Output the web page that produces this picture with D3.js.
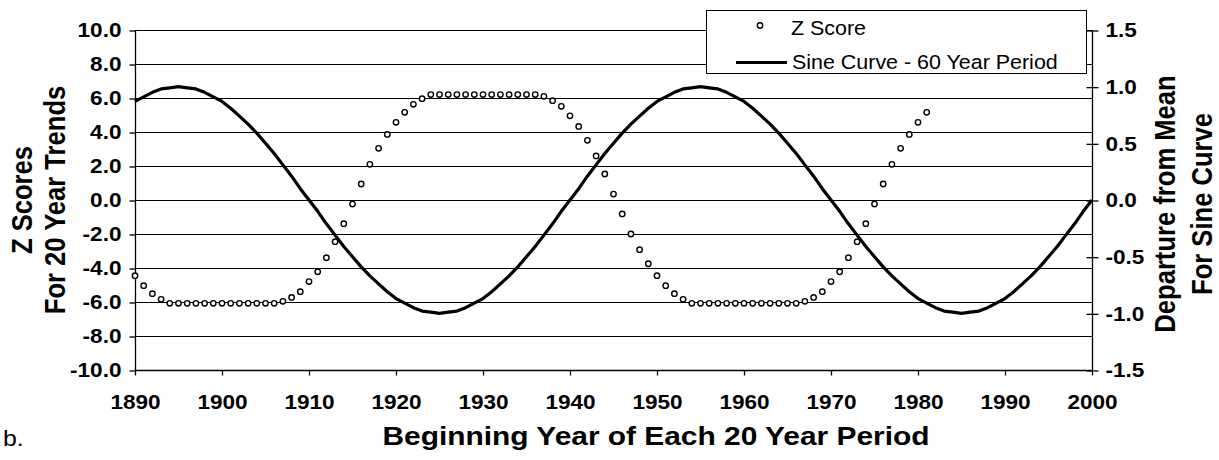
<!DOCTYPE html>
<html>
<head>
<meta charset="utf-8">
<script src="https://cdn.jsdelivr.net/npm/d3@7"></script>
<style>
  html, body { margin: 0; padding: 0; background: #fff; }
  svg { display: block; font-family: "Liberation Sans", Arial, sans-serif; }
</style>
</head>
<body>
<svg id="chart" width="1219" height="460"></svg>
<script>
// Z scores of 20-year trends, one per beginning year from 1890
const zFirstYear = 1890;
const zScores = [
  -4.45, -5.04, -5.51, -5.84,
  -6.08, -6.08, -6.08, -6.08, -6.08, -6.08, -6.08, -6.08, -6.08, -6.08, -6.08, -6.08, -6.08,
  -5.96, -5.73, -5.39, -4.80, -4.22, -3.39, -2.45, -1.39, -0.24, 0.94, 2.10, 3.04, 3.86, 4.57, 5.16, 5.63, 5.96,
  6.20, 6.20, 6.20, 6.20, 6.20, 6.20, 6.20, 6.20, 6.20, 6.20, 6.20, 6.20, 6.20,
  6.10, 5.84, 5.51, 4.95, 4.33, 3.51, 2.59, 1.53, 0.35, -0.82, -2.00, -2.92, -3.75, -4.45, -5.04, -5.51, -5.84,
  -6.08, -6.08, -6.08, -6.08, -6.08, -6.08, -6.08, -6.08, -6.08, -6.08, -6.08, -6.08, -6.08,
  -5.96, -5.73, -5.39, -4.80, -4.22, -3.39, -2.45, -1.39, -0.24, 0.94, 2.10, 3.04, 3.86, 4.57, 5.16
];

// Departure from mean of the 60-year sine curve, one per year from 1890 to 2000
const sineFirstYear = 1890;
const sineValues = [
  0.87, 0.91, 0.95, 0.98, 0.99, 1.00, 0.99, 0.98, 0.95, 0.91,
  0.87, 0.81, 0.74, 0.67, 0.59, 0.50, 0.41, 0.31, 0.21, 0.10,
  0.00, -0.10, -0.21, -0.31, -0.41, -0.50, -0.59, -0.67, -0.74, -0.81,
  -0.87, -0.91, -0.95, -0.98, -0.99, -1.00, -0.99, -0.98, -0.95, -0.91,
  -0.87, -0.81, -0.74, -0.67, -0.59, -0.50, -0.41, -0.31, -0.21, -0.10,
  0.00, 0.10, 0.21, 0.31, 0.41, 0.50, 0.59, 0.67, 0.74, 0.81,
  0.87, 0.91, 0.95, 0.98, 0.99, 1.00, 0.99, 0.98, 0.95, 0.91,
  0.87, 0.81, 0.74, 0.67, 0.59, 0.50, 0.41, 0.31, 0.21, 0.10,
  0.00, -0.10, -0.21, -0.31, -0.41, -0.50, -0.59, -0.67, -0.74, -0.81,
  -0.87, -0.91, -0.95, -0.98, -0.99, -1.00, -0.99, -0.98, -0.95, -0.91,
  -0.87, -0.81, -0.74, -0.67, -0.59, -0.50, -0.41, -0.31, -0.21, -0.10,
  0.00
];

// Axis ticks
const yearTicks = [1890, 1900, 1910, 1920, 1930, 1940, 1950, 1960, 1970, 1980, 1990, 2000];
const zTicks = [-10, -8, -6, -4, -2, 0, 2, 4, 6, 8, 10];
const sineTicks = [-1.5, -1.0, -0.5, 0.0, 0.5, 1.0, 1.5];

const seriesNames = ["Z Score", "Sine Curve - 60 Year Period"];
const xTitle = "Beginning Year of Each 20 Year Period";
const yLeftTitle = ["Z Scores", "For 20 Year Trends"];
const yRightTitle = ["Departure from Mean", "For Sine Curve"];
const panelLabel = "b.";

const zData = zScores.map((v, i) => ({ year: zFirstYear + i, value: v }));
const sineData = sineValues.map((v, i) => ({ year: sineFirstYear + i, value: v }));

const svg = d3.select("#chart");
const plot = { left: 135, right: 1092, top: 30, bottom: 370 };
const WIDEN = 1.13;   // type is set slightly wide throughout

const x = d3.scaleLinear().domain([1890, 2000]).range([plot.left, plot.right]);
const yL = d3.scaleLinear().domain([-10, 10]).range([plot.bottom, plot.top]);
const yR = d3.scaleLinear().domain([-1.5, 1.5]).range([plot.bottom, plot.top]);

const fmt = d => d.toFixed(1);

// Move a text's x/y into a transform so it can be widened around its anchor
function widen(sel, sx) {
  sel.each(function () {
    const t = d3.select(this);
    const tx = +t.attr("x") || 0;
    const ty = +t.attr("y") || 0;
    t.attr("x", 0).attr("y", 0)
      .attr("transform", `translate(${tx},${ty}) scale(${sx},1)`);
  });
}

// Horizontal gridlines at every left-axis tick
svg.append("g")
  .selectAll("line")
  .data(zTicks)
  .join("line")
  .attr("x1", plot.left)
  .attr("x2", plot.right)
  .attr("y1", d => Math.round(yL(d)) + 0.5)
  .attr("y2", d => Math.round(yL(d)) + 0.5)
  .attr("stroke", "#000")
  .attr("stroke-width", 1);

// Left axis
const gL = svg.append("g")
  .attr("transform", `translate(${plot.left + 0.5},0.5)`)
  .call(d3.axisLeft(yL).tickValues(zTicks).tickFormat(fmt).tickSize(6).tickPadding(8));

// Right axis, ticks crossing the line
const gR = svg.append("g")
  .attr("transform", `translate(${plot.right + 0.5},0.5)`)
  .call(d3.axisRight(yR).tickValues(sineTicks).tickFormat(fmt).tickSize(6).tickPadding(7));
gR.selectAll(".tick line").attr("x1", -6);

// Bottom axis
const gB = svg.append("g")
  .attr("transform", `translate(0,${plot.bottom + 0.5})`)
  .call(d3.axisBottom(x).tickValues(yearTicks).tickFormat(d3.format("d")).tickSize(5).tickPadding(19));

[gL, gR, gB].forEach(g => {
  g.selectAll(".domain").attr("stroke", "#000").attr("stroke-width", 1.3);
  g.selectAll(".tick line").attr("stroke", "#000").attr("stroke-width", 1.3);
  g.selectAll(".tick text")
    .attr("fill", "#000")
    .style("font-family", '"Liberation Sans", Arial, sans-serif')
    .style("font-size", "20px")
    .style("font-weight", "bold")
    .call(widen, WIDEN);
});
gL.select(".domain").attr("d", `M0,${plot.top}V${plot.bottom}`);
gR.select(".domain").attr("d", `M0,${plot.top}V${plot.bottom}`);
gB.select(".domain").attr("d", `M${plot.left},0H${plot.right}`);

// Sine curve on the right scale
const sineLine = d3.line()
  .x(d => x(d.year))
  .y(d => yR(d.value));

svg.append("path")
  .datum(sineData)
  .attr("d", sineLine)
  .attr("fill", "none")
  .attr("stroke", "#000")
  .attr("stroke-width", 3.2)
  .attr("stroke-linejoin", "round");

// Z score markers on the left scale
svg.append("g")
  .selectAll("circle")
  .data(zData)
  .join("circle")
  .attr("cx", d => x(d.year))
  .attr("cy", d => yL(d.value))
  .attr("r", 2.7)
  .attr("fill", "#fff")
  .attr("stroke", "#000")
  .attr("stroke-width", 1.4);

// Legend
const legend = svg.append("g");
legend.append("rect")
  .attr("x", 706.5).attr("y", 10.5)
  .attr("width", 380).attr("height", 63)
  .attr("fill", "#fff")
  .attr("stroke", "#000")
  .attr("stroke-width", 1);
legend.append("circle")
  .attr("cx", 760).attr("cy", 25.5).attr("r", 2.7)
  .attr("fill", "#fff").attr("stroke", "#000").attr("stroke-width", 1.4);
legend.append("line")
  .attr("x1", 736).attr("x2", 787).attr("y1", 62.5).attr("y2", 62.5)
  .attr("stroke", "#000").attr("stroke-width", 3.2);
legend.selectAll("text")
  .data(seriesNames)
  .join("text")
  .attr("x", (d, i) => i === 0 ? 791 : 792)
  .attr("y", (d, i) => i === 0 ? 35 : 68.5)
  .attr("fill", "#000")
  .style("font-size", "19.5px")
  .text(d => d)
  .call(widen, 1.1);

// Axis titles
svg.append("text")
  .attr("transform", `translate(656,445) scale(${WIDEN + 0.02},1)`)
  .attr("text-anchor", "middle")
  .style("font-size", "26px")
  .style("font-weight", "bold")
  .text(xTitle);

const cy = (plot.top + plot.bottom) / 2;
svg.append("g")
  .selectAll("text")
  .data(yLeftTitle)
  .join("text")
  .attr("transform", (d, i) => `translate(${i === 0 ? 31.5 : 65},${cy}) rotate(-90) scale(1,${WIDEN})`)
  .attr("text-anchor", "middle")
  .style("font-size", "25.6px")
  .style("font-weight", "bold")
  .text(d => d);

svg.append("g")
  .selectAll("text")
  .data(yRightTitle)
  .join("text")
  .attr("transform", (d, i) => `translate(${i === 0 ? 1175 : 1212},${cy + 4}) rotate(-90) scale(1,${WIDEN})`)
  .attr("text-anchor", "middle")
  .style("font-size", "25.6px")
  .style("font-weight", "bold")
  .text(d => d);

svg.append("text")
  .attr("x", 3)
  .attr("y", 446)
  .style("font-size", "22px")
  .text(panelLabel)
  .call(widen, WIDEN);
</script>
</body>
</html>
